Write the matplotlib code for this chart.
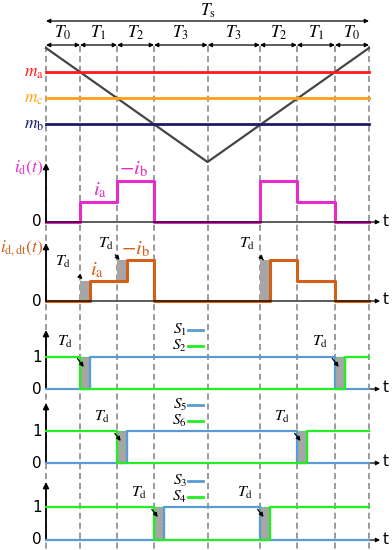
import numpy as np
import matplotlib
matplotlib.use("Agg")
import matplotlib.pyplot as plt

plt.rcParams['mathtext.fontset'] = 'stix'

# interval lengths (T0 T1 T2 T3 T3 T2 T1 T0), in units of T1
durations = [0.92, 1.0, 1.0, 1.45, 1.41, 1.0, 1.03, 0.92]
interval_labels = ['$T_0$', '$T_1$', '$T_2$', '$T_3$', '$T_3$', '$T_2$', '$T_1$', '$T_0$']
Td = 0.27

# modulation signals
mod_names = ['$m_\\mathrm{a}$', '$m_\\mathrm{c}$', '$m_\\mathrm{b}$']
mod_values = [0.79, 0.56, 0.33]
mod_colors = ['#ff1a1a', '#ffa216', '#1b1b6b']

# dc link current levels per interval
ia, ib = 0.5, 1.0
id_levels = [0, ia, ib, 0, 0, ib, ia, 0]

# switch pairs: (upper, lower, on interval index, off interval index)
legs = [('$S_1$', '$S_2$', 1, 7), ('$S_5$', '$S_6$', 2, 6), ('$S_3$', '$S_4$', 3, 5)]

bnd = np.concatenate([[0], np.cumsum(durations)])
Ts = bnd[-1]

# layout (pixels)
px = 323 / Ts
x0 = 46
fig = plt.figure(figsize=(3.92, 5.5), dpi=100)
ax = fig.add_axes([0, 0, 1, 1])
ax.set_xlim(-x0 / px, (392 - x0) / px)
ax.set_ylim(550, 0)
ax.axis('off')

blue = '#5b9bd5'
green = '#22ee22'
magenta = '#e62bc8'
orange = '#d2601a'
grey = '#a6a6a6'
txt = dict(fontsize=12.5, ha='center', va='center')

# dashed verticals
for b in bnd:
    ax.plot([b, b], [46, 550], color='#808080', lw=1.1, ls=(0, (4, 2.5)), zorder=0)

# time arrows
arr = dict(arrowstyle='<|-|>', color='black', lw=0.9, mutation_scale=6, shrinkA=0, shrinkB=0)
ax.annotate('', xy=(0, 21), xytext=(Ts, 21), arrowprops=arr)
ax.text(Ts / 2, 11, '$T_\\mathrm{s}$', **txt)
for i, lab in enumerate(interval_labels):
    ax.annotate('', xy=(bnd[i], 45), xytext=(bnd[i + 1], 45), arrowprops=arr)
    ax.text((bnd[i] + bnd[i + 1]) / 2, 33, lab, **txt)

# carrier and modulation
c_top, c_bot = 48, 162
tc = [0, Ts / 2, Ts]
cv = [1, 0, 1]
ax.plot(tc, [c_bot - v * (c_bot - c_top) for v in cv], color='#454545', lw=1.6)
for name, m, col in zip(mod_names, mod_values, mod_colors):
    y = c_bot - m * (c_bot - c_top)
    ax.plot([0, Ts], [y, y], color=col, lw=2)
    ax.text(-0.06, y, name, color=col, fontsize=12.5, ha='right', va='center')


def axis_frame(base, top, ylabel=None, ycol=None, ticks=()):
    ax.annotate('', xy=(0, top), xytext=(0, base),
                arrowprops=dict(arrowstyle='-|>', color='black', lw=1.3, mutation_scale=8, shrinkA=0, shrinkB=0))
    ax.annotate('', xy=(Ts + 0.3, base), xytext=(0, base),
                arrowprops=dict(arrowstyle='-|>', color='black', lw=0.9, mutation_scale=6, shrinkA=0, shrinkB=0))
    ax.text(Ts + 0.45, base - 1, 't', fontsize=11, ha='center', va='center', family='DejaVu Sans')
    for val, ty in ticks:
        ax.text(-0.25, ty, val, fontsize=11, ha='center', va='center', family='DejaVu Sans')
    if ylabel:
        ax.text(-0.06, top + 5, ylabel, color=ycol, fontsize=12.5, ha='right', va='center')


def td_note(xt, yt, xa, ya):
    ax.annotate('$T_\\mathrm{d}$', xy=(xa, ya), xytext=(xt, yt), fontsize=11.5, ha='center', va='center',
                arrowprops=dict(arrowstyle='-|>', color='black', lw=0.9, mutation_scale=6,
                                shrinkA=5, shrinkB=0))


# i_d(t)
base, sc = 222, 41
axis_frame(base, 163, '$i_\\mathrm{d}(t)$', magenta, [('0', base)])
ax.step(bnd, [base - v * sc for v in id_levels + [0]], where='post', color=magenta, lw=2.2)
ax.text(bnd[1] + 0.55, base - ia * sc - 11, '$i_\\mathrm{a}$', color=magenta, fontsize=15, ha='center', va='center')
ax.text(bnd[2] + 0.45, base - ib * sc - 12, '$-i_\\mathrm{b}$', color=magenta, fontsize=15, ha='center', va='center')

# i_d,dt(t) with dead time on rising edges
base = 301
axis_frame(base, 243, '$i_\\mathrm{d,dt}(t)$', orange, [('0', base)])
t_dt = [0, bnd[1] + Td, bnd[2] + Td, bnd[3], bnd[5] + Td, bnd[6], bnd[7], bnd[8]]
l_dt = [0, ia, ib, 0, ib, ia, 0, 0]
for b, lo, hi in [(bnd[1], 0, ia), (bnd[2], ia, ib), (bnd[5], 0, ib)]:
    ax.fill_between([b, b + Td], base - lo * sc, base - hi * sc, color=grey, lw=0)
ax.step(t_dt, [base - v * sc for v in l_dt], where='post', color=orange, lw=2.2)
ax.text(bnd[1] + 0.45, base - ia * sc - 10, '$i_\\mathrm{a}$', color=orange, fontsize=15, ha='center', va='center')
ax.text(bnd[2] + 0.5, base - ib * sc - 11, '$-i_\\mathrm{b}$', color=orange, fontsize=15, ha='center', va='center')
td_note(bnd[1] - 0.45, 262, bnd[1] + 0.07, 279)
td_note(bnd[2] - 0.3, 244, bnd[2] + 0.07, 260)
td_note(bnd[5] - 0.33, 244, bnd[5] + 0.1, 260)

# switching signals
panels = [(389, 357, 330, 330), (463, 431, 403, 405), (540, 507, 482, 481)]
for (up, lowname, on_i, off_i), (base, high, top, leg_y) in zip(legs, panels):
    axis_frame(base, top, ticks=[('0', base), ('1', high)])
    t_on, t_off = bnd[on_i], bnd[off_i]
    for t in (t_on, t_off):
        ax.fill_between([t, t + Td], high, base, color=grey, lw=0, zorder=1)
        ax.plot([t, t + Td, t + Td, t, t], [high, high, base, base, high], color=green, lw=1, ls=':', zorder=2)
    ax.plot([0, t_on + Td, t_on + Td, t_off, t_off, Ts], [base, base, high, high, base, base], color=blue, lw=1.6, zorder=3)
    ax.plot([0, t_on, t_on, t_off + Td, t_off + Td, Ts], [high, high, base, base, high, high], color=green, lw=1.6, zorder=3)
    # legend
    lx = Ts / 2 - 0.75
    ax.text(lx, leg_y, up, fontsize=11, ha='center', va='center')
    ax.plot([lx + 0.22, lx + 0.62], [leg_y, leg_y], color=blue, lw=2)
    ax.text(lx, leg_y + 15.5, lowname, fontsize=11, ha='center', va='center')
    ax.plot([lx + 0.22, lx + 0.62], [leg_y + 15.5, leg_y + 15.5], color=green, lw=2)
    td_note(t_on - 0.4, leg_y + 12, t_on + 0.1, high + 10)
    td_note(t_off - 0.4, leg_y + 12, t_off + 0.1, high + 10)

fig.savefig('out.png', dpi=100)
